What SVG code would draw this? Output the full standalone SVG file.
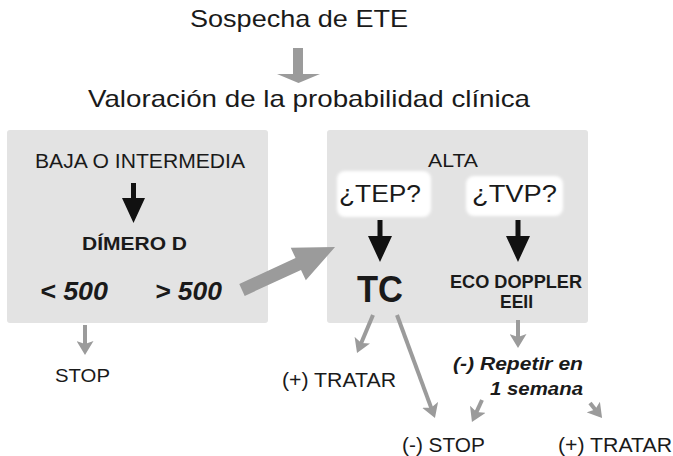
<svg xmlns="http://www.w3.org/2000/svg" width="673" height="456" viewBox="0 0 673 456">
<defs>
<style>
text{font-family:"Liberation Sans",Arial,sans-serif;fill:#1a1a1a;}
.b{font-weight:bold;}
.bi{font-weight:bold;font-style:italic;}
.box{fill:#e3e3e3;}
.wb{fill:#ffffff;filter:url(#soft);}
.ga{stroke:#9b9b9b;stroke-width:4;fill:none;marker-end:url(#gh);}
.gf{fill:#9b9b9b;}
.ka{fill:#111111;}
</style>
<filter id="soft" x="-20%" y="-30%" width="140%" height="160%">
<feGaussianBlur stdDeviation="1.8"/>
</filter>
<marker id="gh" viewBox="0 0 14 17" refX="4" refY="8.5" markerWidth="14" markerHeight="17" markerUnits="userSpaceOnUse" orient="auto">
<path d="M0,0 L14,8.5 L0,17 L3,8.5 z" fill="#9b9b9b"/>
</marker>
</defs>
<rect width="673" height="456" fill="#ffffff"/>

<g id="title">
<text x="190" y="27" font-size="24" textLength="218" lengthAdjust="spacingAndGlyphs">Sospecha de ETE</text>
</g>
<g id="valoracion">
<text x="88" y="107" font-size="24" textLength="442" lengthAdjust="spacingAndGlyphs">Valoración de la probabilidad clínica</text>
</g>

<g id="box-baja">
<rect class="box" x="7" y="130" width="261" height="193" rx="3"/>
<text x="35" y="168" font-size="20" textLength="210" lengthAdjust="spacingAndGlyphs">BAJA O INTERMEDIA</text>
<text class="b" x="82" y="250" font-size="19" textLength="105" lengthAdjust="spacingAndGlyphs">DÍMERO D</text>
<text class="bi" x="40" y="300" font-size="25" textLength="68" lengthAdjust="spacingAndGlyphs">&lt; 500</text>
<text class="bi" x="155" y="300" font-size="25" textLength="67" lengthAdjust="spacingAndGlyphs">&gt; 500</text>
</g>

<g id="box-alta">
<rect class="box" x="327" y="130" width="261" height="193" rx="3"/>
<text x="428" y="167" font-size="18" textLength="50" lengthAdjust="spacingAndGlyphs">ALTA</text>
</g>

<g id="tep">
<rect class="wb" x="337" y="171" width="94" height="46" rx="8"/>
<text x="339" y="202" font-size="23" textLength="82" lengthAdjust="spacingAndGlyphs">¿TEP?</text>
</g>
<g id="tvp">
<rect class="wb" x="466" y="176" width="97" height="40" rx="8"/>
<text x="472" y="202" font-size="23" textLength="85" lengthAdjust="spacingAndGlyphs">¿TVP?</text>
</g>

<g id="tc">
<text class="b" x="357" y="302" font-size="37" textLength="46" lengthAdjust="spacingAndGlyphs">TC</text>
</g>
<g id="eco">
<text class="b" x="450" y="288" font-size="18" textLength="132" lengthAdjust="spacingAndGlyphs">ECO DOPPLER</text>
<text class="b" x="500" y="308" font-size="18" textLength="33" lengthAdjust="spacingAndGlyphs">EEII</text>
</g>

<g id="stop-left">
<text x="55" y="382" font-size="19" textLength="55" lengthAdjust="spacingAndGlyphs">STOP</text>
</g>
<g id="tratar-left">
<text x="282" y="387" font-size="20" textLength="114" lengthAdjust="spacingAndGlyphs">(+) TRATAR</text>
</g>
<g id="repetir">
<text class="bi" x="453" y="370" font-size="18" textLength="130" lengthAdjust="spacingAndGlyphs">(-) Repetir en</text>
<text class="bi" x="490" y="395" font-size="18" textLength="93" lengthAdjust="spacingAndGlyphs">1 semana</text>
</g>
<g id="stop-bottom">
<text x="402" y="452" font-size="20" textLength="83" lengthAdjust="spacingAndGlyphs">(-) STOP</text>
</g>
<g id="tratar-right">
<text x="558" y="452" font-size="20" textLength="114" lengthAdjust="spacingAndGlyphs">(+) TRATAR</text>
</g>

<g id="connectors">
<polygon class="gf" points="293,48 303,48 303,74 320,74 298.5,83 277,74 293,74"/>
<polygon class="gf" transform="translate(242,290) rotate(-24.8)" points="0,-6.5 62,-6.5 62,-18 102.5,0 62,18 62,6.5 0,6.5"/>
<polygon class="ka" points="131,183 136,183 136,198 145,198 133.5,223 122,198 131,198"/>
<polygon class="ka" points="377.5,220 382.5,220 382.5,236 392,236 380,262 368,236 377.5,236"/>
<polygon class="ka" points="515.5,220 520.5,220 520.5,236 530,236 518,262 506,236 515.5,236"/>
<line class="ga" x1="85" y1="325" x2="85" y2="345"/>
<line class="ga" x1="373" y1="315" x2="360.9" y2="343.8"/>
<line class="ga" x1="397" y1="315" x2="431.5" y2="408.6"/>
<line class="ga" x1="518" y1="320" x2="518" y2="338"/>
<line class="ga" x1="482" y1="400" x2="476.1" y2="412.9"/>
<line class="ga" x1="590" y1="403" x2="595.8" y2="410.2"/>
</g>
</svg>
